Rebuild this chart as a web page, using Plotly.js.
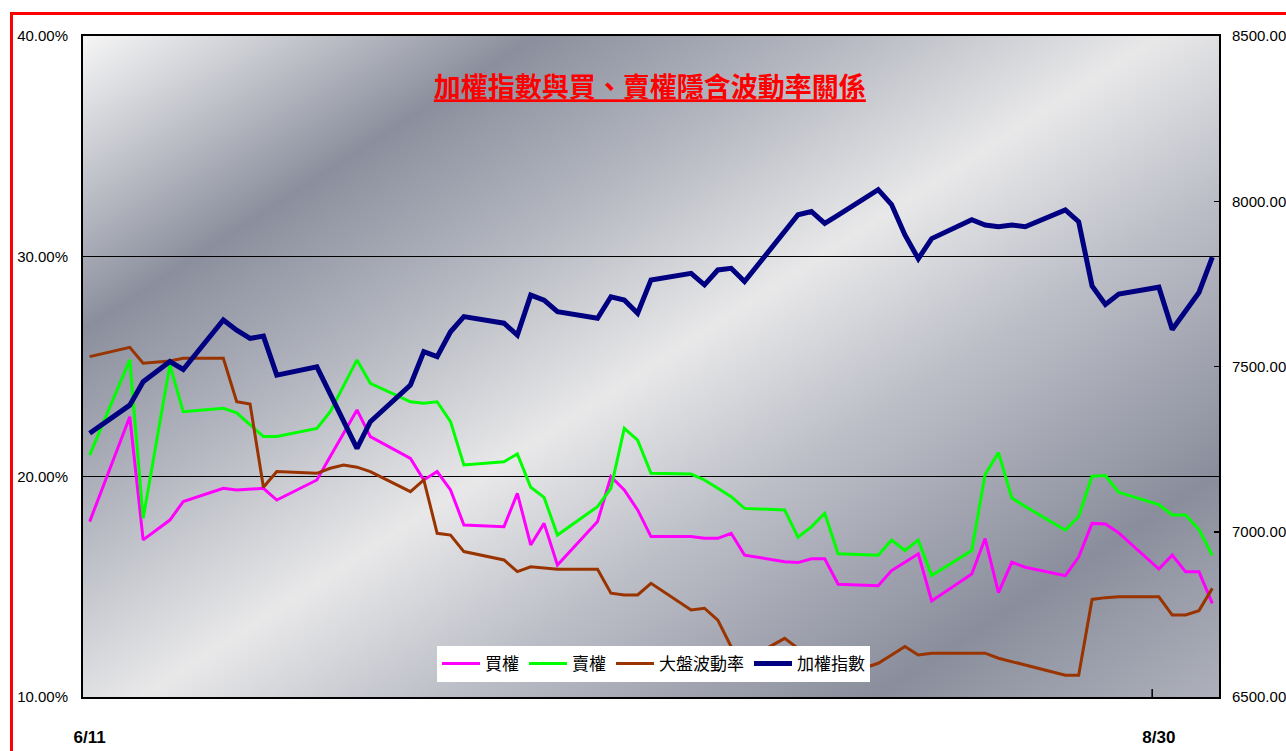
<!DOCTYPE html>
<html>
<head>
<meta charset="utf-8">
<script src="https://cdn.plot.ly/plotly-3.0.1.min.js"></script>
<style>
  html, body { margin:0; padding:0; background:#ffffff; width:1286px; height:751px; overflow:hidden; }
  #frame { position:absolute; left:10px; top:12px; width:1400px; height:900px;
           border-top:3px solid #ff0000; border-left:3px solid #ff0000; }
  #bg { position:absolute; left:83px; top:36px; width:1136px; height:661px;
        background: linear-gradient(147deg, #f6f6f6 0%, #c9cbd1 9%, #8b8f9d 21%, #b4b7c0 35%, #e8e8e9 50%, #bcbec7 64%, #8a8e9c 84%, #aeb1bb 100%); }
  #chart { position:absolute; left:0; top:0; width:1286px; height:751px; }
</style>
</head>
<body>
<div id="frame"></div>
<div id="bg"></div>
<div id="chart"></div>
<script>
const dates = ['2010-06-11','2010-06-14','2010-06-15','2010-06-17','2010-06-18','2010-06-21','2010-06-22','2010-06-23','2010-06-24','2010-06-25',
  '2010-06-28','2010-06-29','2010-06-30','2010-07-01','2010-07-02','2010-07-05','2010-07-06','2010-07-07','2010-07-08','2010-07-09',
  '2010-07-12','2010-07-13','2010-07-14','2010-07-15','2010-07-16','2010-07-19','2010-07-20','2010-07-21','2010-07-22','2010-07-23',
  '2010-07-26','2010-07-27','2010-07-28','2010-07-29','2010-07-30','2010-08-02','2010-08-03','2010-08-04','2010-08-05','2010-08-06',
  '2010-08-09','2010-08-10','2010-08-11','2010-08-12','2010-08-13','2010-08-16','2010-08-17','2010-08-18','2010-08-19','2010-08-20',
  '2010-08-23','2010-08-24','2010-08-25','2010-08-26','2010-08-27','2010-08-30','2010-08-31','2010-09-01','2010-09-02','2010-09-03'];

// 買權 implied volatility (%)
const callIV = [17.96,22.72,17.13,18.03,18.87,19.47,19.40,19.42,19.47,18.94,
  19.85,20.91,21.97,23.03,21.82,20.83,19.85,20.23,19.40,17.81,
  17.73,19.24,16.90,17.88,15.99,17.96,20.00,19.40,18.49,17.28,
  17.28,17.20,17.20,17.43,16.44,16.14,16.10,16.27,16.27,15.12,
  15.05,15.74,16.12,16.50,14.36,15.58,17.19,14.74,16.12,15.89,
  15.51,16.35,17.88,17.85,17.45,15.81,16.44,15.68,15.68,14.25];

// 賣權 implied volatility (%)
const putIV = [20.98,25.30,18.11,25.07,22.95,23.10,22.90,22.35,21.82,21.82,
  22.19,22.95,24.09,25.30,24.24,23.40,23.33,23.40,22.50,20.53,
  20.68,21.03,19.52,19.06,17.35,18.64,19.47,22.19,21.66,20.15,
  20.12,19.85,19.47,19.09,18.56,18.49,17.25,17.72,18.34,16.50,
  16.43,17.12,16.65,17.12,15.51,16.65,20.10,21.09,19.03,18.65,
  17.57,18.19,20.02,20.05,19.29,18.73,18.26,18.26,17.60,16.43];

// 大盤波動率 (%)
const mktVol = [25.45,25.87,25.15,25.25,25.37,25.37,23.40,23.30,19.52,20.23,
  20.15,20.38,20.53,20.43,20.23,19.32,19.85,17.43,17.35,16.60,
  16.22,15.69,15.91,15.84,15.80,15.80,14.71,14.63,14.63,15.16,
  13.95,14.03,13.49,12.28,11.65,12.66,12.21,11.70,11.20,10.90,
  11.53,11.91,12.29,11.91,11.99,11.99,11.99,11.76,11.61,11.45,
  10.99,10.99,14.43,14.51,14.55,14.55,13.72,13.72,13.92,14.93];

// 加權指數
const taiex = [7298,7383,7454,7515,7491,7641,7610,7585,7592,7474,
  7499,7417,7335,7252,7333,7444,7545,7530,7605,7651,
  7631,7595,7716,7701,7666,7646,7711,7701,7661,7762,
  7782,7747,7792,7797,7757,7905,7959,7969,7933,7958,
  8035,7990,7898,7826,7887,7944,7928,7923,7928,7923,
  7974,7938,7744,7688,7719,7740,7612,7668,7724,7831];

const seriesNames = ['買權','賣權','大盤波動率','加權指數'];
const xTickVals = ['2010-06-11','2010-08-30'];
const xTickText = ['6/11','8/30'];
const leftTicks = [10,20,30,40];
const leftTickText = ['10.00%','20.00%','30.00%','40.00%'];
const rightTicks = [6500,7000,7500,8000,8500];
const rightTickText = ['6500.00','7000.00','7500.00','8000.00','8500.00'];
const titleText = '加權指數與買、賣權隱含波動率關係';

const axisFont = {family:'"Liberation Sans Narrow","Liberation Sans",Arial,sans-serif', size:15, color:'#000'};
const cjk = '"Noto Sans CJK TC","Noto Sans CJK SC",sans-serif';

const traces = [
  {x:dates, y:callIV, name:seriesNames[0], type:'scatter', mode:'lines', line:{color:'#ff00ff', width:3}, yaxis:'y'},
  {x:dates, y:putIV, name:seriesNames[1], type:'scatter', mode:'lines', line:{color:'#00ff00', width:3}, yaxis:'y'},
  {x:dates, y:mktVol, name:seriesNames[2], type:'scatter', mode:'lines', line:{color:'#993300', width:3}, yaxis:'y'},
  {x:dates, y:taiex, name:seriesNames[3], type:'scatter', mode:'lines', line:{color:'#000080', width:5}, yaxis:'y2'}
];

const layout = {
  width:1286, height:751,
  margin:{l:83, r:67, t:36, b:54, pad:0},
  paper_bgcolor:'rgba(0,0,0,0)',
  plot_bgcolor:'rgba(0,0,0,0)',
  showlegend:true,
  title:{text:'<b><u>'+titleText+'</u></b>', font:{family:cjk, size:27, color:'#ff0000'},
         x:0.499, xanchor:'center', xref:'paper', y:0.883, yanchor:'middle', yref:'container'},
  xaxis:{type:'date', range:['2010-06-10 12:00','2010-09-03 12:00'], tickmode:'array',
         tickvals:xTickVals, ticktext:xTickText, ticks:'', showgrid:false, zeroline:false,
         showline:true, linecolor:'#000', linewidth:2, mirror:true,
         tickfont:{family:axisFont.family, size:17, color:'#000', weight:'bold'}, ticklabelstandoff:24},
  yaxis:{range:[10,40], tickmode:'array', tickvals:leftTicks, ticktext:leftTickText,
         showgrid:true, gridcolor:'#000', gridwidth:1.5, zeroline:false, ticks:'',
         showline:true, linecolor:'#000', linewidth:2, mirror:true,
         tickfont:axisFont, ticklabelstandoff:10},
  yaxis2:{range:[6500,8500], tickmode:'array', tickvals:rightTicks, ticktext:rightTickText,
          overlaying:'y', side:'right', showgrid:false, zeroline:false,
          ticks:'inside', ticklen:5, tickcolor:'#000', tickwidth:1.5, showline:false,
          tickfont:axisFont, ticklabelstandoff:12},
  legend:{orientation:'h', x:(437-83)/1136, xanchor:'left', y:(697-646)/661, yanchor:'top',
          bgcolor:'#ffffff', borderwidth:0, font:{family:cjk, size:17, color:'#000'},
          tracegroupgap:0, itemwidth:38},
  shapes:[{type:'line', xref:'x', yref:'paper', x0:'2010-08-29 12:00', x1:'2010-08-29 12:00', y0:0, y1:0.012,
           line:{color:'#000', width:1.5}}]
};

Plotly.newPlot('chart', traces, layout, {displayModeBar:false, staticPlot:true});
</script>
</body>
</html>
